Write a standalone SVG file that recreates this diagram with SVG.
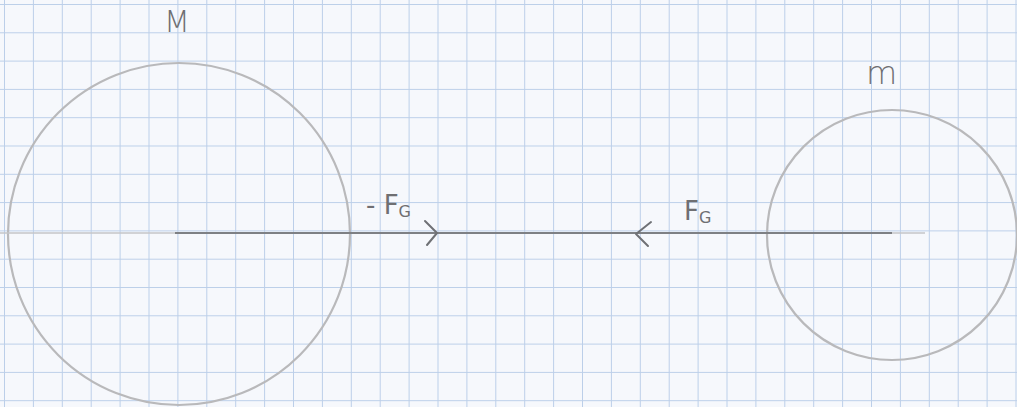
<svg xmlns="http://www.w3.org/2000/svg" width="1017" height="407" viewBox="0 0 1017 407">
  <style>
    .body { fill: none; stroke: #b9b9bb; stroke-width: 2.2; }
    .lbl { font-family: "DejaVu Sans", sans-serif; fill: #6f6f72; }
    .axis { stroke: #c4c6c9; stroke-width: 1.5; fill: none; }
    .force { stroke: #7e8084; stroke-width: 1.8; fill: none; }
    .chev { stroke: #6f7175; stroke-width: 2; fill: none; stroke-linecap: round; stroke-linejoin: round; }
  </style>
  <defs>
    <pattern id="grid" x="4" y="4" width="28.9" height="28.3" patternUnits="userSpaceOnUse">
      <path d="M0 0 H28.9 M0 0 V28.3" stroke="#bccfe9" stroke-width="2" fill="none"/>
    </pattern>
  </defs>
  <rect x="0" y="0" width="1017" height="407" fill="#f6f8fc"/>
  <rect x="0" y="0" width="1017" height="407" fill="url(#grid)"/>

  <g id="body-M">
    <circle class="body" cx="179" cy="234" r="171"/>
    <text class="lbl" x="164" y="32" font-size="30" font-weight="300">M</text>
  </g>
  <g id="body-m">
    <circle class="body" cx="892" cy="235" r="125"/>
    <text class="lbl" x="866" y="84" font-size="32" font-weight="300">m</text>
  </g>

  <g id="connectors">
    <line class="axis" x1="0" y1="233" x2="925" y2="233"/>
    <line class="force" x1="175" y1="233" x2="892" y2="233"/>
    <path class="chev" d="M425 221 L437 233 L427 245"/>
    <path class="chev" d="M651 222 L636 234 L648 246"/>
    <g id="label-minus-FG">
      <text class="lbl" x="366" y="214" font-size="26">- F<tspan font-size="16" dy="3">G</tspan></text>
    </g>
    <g id="label-FG">
      <text class="lbl" x="684" y="220" font-size="26">F<tspan font-size="16" dy="3">G</tspan></text>
    </g>
  </g>
</svg>
